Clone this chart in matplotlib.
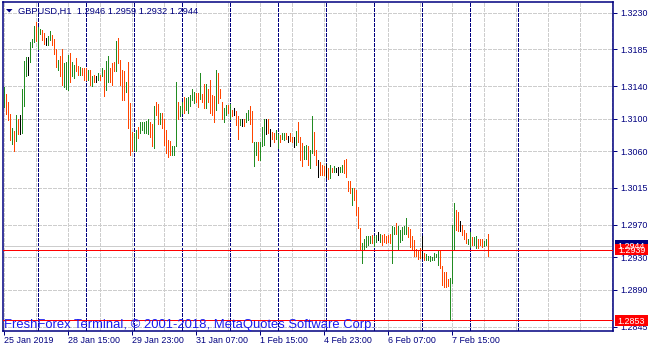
import matplotlib
matplotlib.use("Agg")
import matplotlib.pyplot as plt
from matplotlib.patches import Rectangle, Polygon
from matplotlib.transforms import blended_transform_factory
import numpy as np
import pandas as pd

# ---------------- data (GBPUSD H1) ----------------
symbol_title = "GBPUSD,H1  1.2946 1.2959 1.2932 1.2944"
first_bar_time = "2019-01-25 07:00"

highs = [
    1.3139, 1.3130, 1.3121, 1.3106, 1.3089, 1.3085, 1.3104, 1.3100, 1.3104, 1.3136,
    1.3171, 1.3176, 1.3176, 1.3194, 1.3198, 1.3214, 1.3219, 1.3213, 1.3210, 1.3209,
    1.3205, 1.3199, 1.3202, 1.3207, 1.3203, 1.3198, 1.3186, 1.3172, 1.3177, 1.3186,
    1.3168, 1.3170, 1.3178, 1.3180, 1.3170, 1.3166, 1.3175, 1.3164, 1.3163, 1.3162,
    1.3162, 1.3162, 1.3160, 1.3160, 1.3152, 1.3154, 1.3152, 1.3156, 1.3154, 1.3162,
    1.3160, 1.3171, 1.3177, 1.3162, 1.3168, 1.3170, 1.3195, 1.3199, 1.3172, 1.3160,
    1.3158, 1.3145, 1.3170, 1.3119, 1.3084, 1.3082, 1.3086, 1.3090, 1.3096, 1.3096,
    1.3096, 1.3097, 1.3100, 1.3096, 1.3094, 1.3115, 1.3120, 1.3118, 1.3107, 1.3107,
    1.3099, 1.3086, 1.3074, 1.3073, 1.3066, 1.3066, 1.3145, 1.3121, 1.3115, 1.3121,
    1.3126, 1.3125, 1.3126, 1.3129, 1.3136, 1.3133, 1.3132, 1.3132, 1.3156, 1.3130,
    1.3143, 1.3143, 1.3137, 1.3148, 1.3129, 1.3128, 1.3160, 1.3156, 1.3137, 1.3121,
    1.3113, 1.3117, 1.3117, 1.3118, 1.3111, 1.3113, 1.3110, 1.3103, 1.3100, 1.3100,
    1.3099, 1.3107, 1.3111, 1.3115, 1.3109, 1.3072, 1.3072, 1.3072, 1.3072, 1.3090,
    1.3100, 1.3100, 1.3099, 1.3087, 1.3084, 1.3083, 1.3086, 1.3081, 1.3080, 1.3082,
    1.3083, 1.3083, 1.3079, 1.3082, 1.3078, 1.3077, 1.3085, 1.3096, 1.3077, 1.3070,
    1.3066, 1.3068, 1.3066, 1.3062, 1.3103, 1.3084, 1.3061, 1.3049, 1.3047, 1.3043,
    1.3042, 1.3045, 1.3039, 1.3043, 1.3039, 1.3042, 1.3039, 1.3041, 1.3041, 1.3043,
    1.3049, 1.3051, 1.3023, 1.3023, 1.3015, 1.3015, 1.3013, 1.2992, 1.2966, 1.2948,
    1.2953, 1.2956, 1.2956, 1.2956, 1.2957, 1.2956, 1.2957, 1.2961, 1.2959, 1.2957,
    1.2959, 1.2956, 1.2957, 1.2959, 1.2968, 1.2967, 1.2972, 1.2968, 1.2963, 1.2967,
    1.2968, 1.2978, 1.2967, 1.2965, 1.2956, 1.2951, 1.2940, 1.2939, 1.2941, 1.2956,
    1.2935, 1.2934, 1.2932, 1.2931, 1.2930, 1.2935, 1.2934, 1.2939, 1.2939, 1.2919,
    1.2912, 1.2912, 1.2903, 1.2904, 1.2970, 1.2996, 1.2988, 1.2986, 1.2974, 1.2970,
    1.2964, 1.2960, 1.2952, 1.2961, 1.2955, 1.2955, 1.2956, 1.2952, 1.2953, 1.2953,
    1.2950, 1.2952, 1.2959,
]

lows = [
    1.3114, 1.3106, 1.3098, 1.3074, 1.3069, 1.3060, 1.3073, 1.3081, 1.3081, 1.3082,
    1.3115, 1.3152, 1.3153, 1.3170, 1.3188, 1.3194, 1.3195, 1.3186, 1.3204, 1.3197,
    1.3192, 1.3190, 1.3190, 1.3197, 1.3190, 1.3179, 1.3163, 1.3160, 1.3152, 1.3141,
    1.3139, 1.3137, 1.3135, 1.3145, 1.3152, 1.3150, 1.3158, 1.3153, 1.3153, 1.3153,
    1.3148, 1.3148, 1.3147, 1.3141, 1.3140, 1.3145, 1.3145, 1.3148, 1.3148, 1.3152,
    1.3128, 1.3135, 1.3145, 1.3145, 1.3141, 1.3158, 1.3158, 1.3168, 1.3141, 1.3123,
    1.3123, 1.3133, 1.3088, 1.3055, 1.3060, 1.3062, 1.3060, 1.3076, 1.3082, 1.3086,
    1.3082, 1.3082, 1.3081, 1.3077, 1.3066, 1.3064, 1.3105, 1.3094, 1.3094, 1.3088,
    1.3068, 1.3058, 1.3053, 1.3055, 1.3055, 1.3055, 1.3066, 1.3099, 1.3103, 1.3107,
    1.3107, 1.3111, 1.3107, 1.3115, 1.3123, 1.3119, 1.3121, 1.3114, 1.3124, 1.3120,
    1.3113, 1.3113, 1.3121, 1.3107, 1.3105, 1.3096, 1.3111, 1.3119, 1.3125, 1.3099,
    1.3096, 1.3105, 1.3107, 1.3099, 1.3103, 1.3105, 1.3092, 1.3075, 1.3092, 1.3091,
    1.3091, 1.3096, 1.3098, 1.3094, 1.3071, 1.3042, 1.3055, 1.3049, 1.3049, 1.3067,
    1.3068, 1.3081, 1.3082, 1.3067, 1.3075, 1.3071, 1.3075, 1.3064, 1.3072, 1.3075,
    1.3074, 1.3075, 1.3072, 1.3073, 1.3071, 1.3065, 1.3068, 1.3071, 1.3049, 1.3042,
    1.3050, 1.3050, 1.3043, 1.3039, 1.3058, 1.3055, 1.3043, 1.3028, 1.3031, 1.3031,
    1.3031, 1.3029, 1.3026, 1.3027, 1.3034, 1.3035, 1.3034, 1.3031, 1.3035, 1.3035,
    1.3033, 1.3029, 1.3011, 1.3009, 1.2994, 1.3000, 1.2982, 1.2966, 1.2939, 1.2923,
    1.2939, 1.2943, 1.2945, 1.2947, 1.2948, 1.2944, 1.2949, 1.2951, 1.2949, 1.2945,
    1.2949, 1.2947, 1.2949, 1.2948, 1.2923, 1.2959, 1.2959, 1.2939, 1.2949, 1.2951,
    1.2959, 1.2959, 1.2955, 1.2943, 1.2939, 1.2932, 1.2931, 1.2928, 1.2929, 1.2929,
    1.2927, 1.2927, 1.2927, 1.2925, 1.2927, 1.2927, 1.2930, 1.2921, 1.2917, 1.2896,
    1.2894, 1.2894, 1.2895, 1.2853, 1.2898, 1.2939, 1.2964, 1.2962, 1.2962, 1.2957,
    1.2952, 1.2948, 1.2946, 1.2943, 1.2945, 1.2945, 1.2941, 1.2941, 1.2945, 1.2943,
    1.2944, 1.2945, 1.2932,
]

# bar direction: U = close above open, D = close below open, N = unchanged
directions = (
    "UDDDUDUDNU" "UUNUUUDUUD" "DNUUDDDUDD" "UUUDUUDDUD" "DDUDUDNUDU"
    "DUUDDDUDDD" "DUDDDUUDUU" "UUUDDUDDUD" "DDDDUUUDUU" "DUUUUUDDUD"
    "DUDDDDUDDD" "UUDUDNDDUN" "DUUDDUUDUU" "UNDNDDUUDU" "UDNDDNUDDD"
    "UUDUUDDNDD" "DNDUDUNNUU" "DDDDUDDDDU" "UUUUDUUNUD" "DDDDUUDUUU"
    "UUDDDDDDDN" "DUUUUUUUDD" "DDDUUUDDND" "DDUUDUUDDD" "UUD"
)

price_ticks = [1.3230, 1.3185, 1.3140, 1.3100, 1.3060, 1.3015, 1.2970, 1.2930, 1.2890, 1.2845]
bid_price = 1.2944
level_lines = [1.2939, 1.2853]
y_range = (1.28396, 1.32431)
slots_visible = 305            # bar slots across the chart width
label_every = 32               # bars between time labels
grid_every = 16                # bars between vertical grid lines
separator_last_day = "2019-02-11"
watermark = "FreshForex Terminal, \u00a9 2001-2018, MetaQuotes Software Corp."

# ---------------- styling ----------------
plt.rcParams['font.family'] = ['Liberation Sans', 'DejaVu Sans']
plt.rcParams['lines.scale_dashes'] = False

NAVY = '#000080'
UP = '#228B22'
DOWN = '#FF4500'
FLAT = '#000000'
GRID = '#cdcdcd'
PX = 0.72  # one pixel in points
DASH = (0, (3 * PX, 2 * PX))

W, H = 653, 352
fig = plt.figure(figsize=(W / 100, H / 100), dpi=100)
fig.patch.set_facecolor('white')

ax_l, ax_r, ax_t, ax_b = 2.5, 612.5, 2.0, 331.0
ax = fig.add_axes([ax_l / W, 1 - ax_b / H, (ax_r - ax_l) / W, (ax_b - ax_t) / H])
ax.set_facecolor('white')

n = len(highs)
x = np.arange(n)
times = pd.date_range(first_bar_time, "2019-02-20", freq="h")
times = times[times.dayofweek < 5][:slots_visible]

ax.set_xlim(-0.5, slots_visible - 0.5)
ax.set_ylim(*y_range)

# grid
for p in price_ticks:
    ax.axhline(p, color=GRID, lw=PX, linestyle=DASH, antialiased=False, zorder=1)
for k in range(0, slots_visible, grid_every):
    ax.axvline(k, color=GRID, lw=PX, linestyle=DASH, antialiased=False, zorder=1)

# day separators
sep_idx = [i for i, t in enumerate(times) if t.hour == 0 and t <= pd.Timestamp(separator_last_day)]
for k in sep_idx:
    ax.axvline(k, color=NAVY, lw=PX, linestyle=DASH, antialiased=False, zorder=2)

# bid line
ax.axhline(bid_price, color=GRID, lw=PX, antialiased=False, zorder=2)

# bars
cmap = {'U': UP, 'D': DOWN, 'N': FLAT}
colors = [cmap[c] for c in directions]
ax.vlines(x, lows, highs, colors=colors, linewidth=PX, antialiased=False, zorder=3)

# horizontal levels
for lv in level_lines:
    ax.axhline(lv, color='#ff0000', lw=PX, antialiased=False, zorder=4)

# axes frame
for s in ax.spines.values():
    s.set_color(NAVY)
    s.set_linewidth(1.1)

# y axis on the right
ax.yaxis.tick_right()
ax.set_yticks(price_ticks)
ax.set_yticklabels([f"{p:.4f}" for p in price_ticks])
ax.tick_params(axis='y', direction='out', length=2.9, width=PX, colors=NAVY,
               labelcolor=NAVY, labelsize=6.4, pad=2.6)

# x axis labels
label_idx = list(range(0, n, label_every))
labels = []
for i in label_idx:
    t = times[i]
    labels.append(f"{t.day} {t:%b %Y}" if i == 0 else f"{t.day} {t:%b %H:%M}")
ax.set_xticks(label_idx)
ax.set_xticklabels(labels)
for lbl in ax.get_xticklabels():
    lbl.set_ha('left')
ax.tick_params(axis='x', direction='out', length=2.9, width=PX, colors=NAVY,
               labelcolor=NAVY, labelsize=6.4, pad=1.0)

# title and marker
fig.text(18.3 / W, 1 - 13.8 / H, symbol_title, fontsize=6.7, color=NAVY, va='baseline', ha='left')
tri = Polygon([(6 / W, 1 - 9 / H), (12.5 / W, 1 - 9 / H), (9.25 / W, 1 - 12.5 / H)],
              closed=True, transform=fig.transFigure, color=NAVY, lw=0)
fig.add_artist(tri)

# watermark
fig.text(3.5 / W, 1 - 328.3 / H, watermark, fontsize=9.4, color='#1a1aee', va='baseline', ha='left')

# price labels on the right scale
btr = blended_transform_factory(fig.transFigure, ax.transData)
box_h = 11 / 8153.0
def price_box(price, face):
    r = Rectangle((615 / W, price - box_h / 2), 33 / W, box_h, transform=btr,
                  facecolor=face, edgecolor='none', clip_on=False, zorder=5)
    fig.add_artist(r)
    fig.text(631.5 / W, price, f"{price:.4f}", transform=btr, fontsize=6.4, color='white',
             ha='center', va='center_baseline', zorder=6)

price_box(bid_price, NAVY)
for lv in level_lines:
    price_box(lv, '#ff0000')

fig.savefig("out.png", dpi=100, facecolor='white')
